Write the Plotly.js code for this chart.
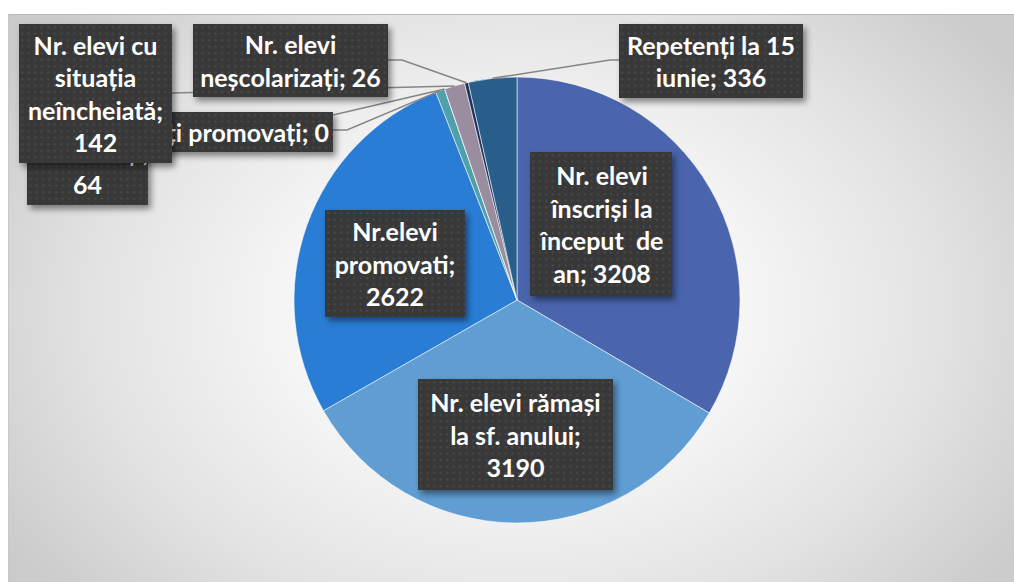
<!DOCTYPE html>
<html><head><meta charset="utf-8">
<script src="https://cdn.plot.ly/plotly-3.0.1.min.js"></script>
<style>
html,body{margin:0;padding:0;background:#fff;width:1014px;height:582px;overflow:hidden}
#frame{position:absolute;left:8px;top:14px;width:1006px;height:568px;border-top:1px solid #b8b8b8;border-left:1px solid #c8c8c8;box-sizing:border-box;
background:radial-gradient(ellipse 60% 78% at 50.5% 52%, #ffffff 0%, #f7f7f7 35%, #e3e3e3 70%, #cbcbcb 100%);}
#chart{position:absolute;left:0;top:0;width:1014px;height:582px}
.annotation rect.bg{filter:drop-shadow(3px 4px 3px rgba(0,0,0,0.45));fill:url(#dots) #3b3b3b !important;}
</style></head>
<body>
<svg width="0" height="0" style="position:absolute"><defs><pattern id="dots" width="6.5" height="6.5" patternUnits="userSpaceOnUse"><rect width="6.5" height="6.5" fill="#383838"/><circle cx="3.2" cy="3.2" r="1" fill="#4e4e4e"/></pattern></defs></svg>
<div id="frame"></div><div id="chart"></div>
<script>
// ---- data ----
const labelsWrapped = [
  "Nr. elevi<br>înscriși la<br>început  de<br>an; ",
  "Nr. elevi rămași<br>la sf. anului;<br>",
  "Nr.elevi<br>promovati;<br>",
  "Nr. elevi<br>transferați;<br>",
  "Corigenți promovați; ",
  "Nr. elevi cu<br>situația<br>neîncheiată;<br>",
  "Nr. elevi<br>neșcolarizați; ",
  "Repetenți la 15<br>iunie; "
];
const values = [3208, 3190, 2622, 64, 0, 142, 26, 336];
const colors = ["#4A65AE", "#5F9DD3", "#2A7DD5", "#4FA0AA", "#7FA6C8", "#9A8D9F", "#23335F", "#2A5E8A"];

// ---- layout constants (pixels) ----
const W = 1014, H = 582, CX = 517, CY = 300, R = 223;
// label boxes: [centerX, centerY, width, height]
const boxes = [
  [601, 224, 142, 144],
  [515.5, 434.5, 195, 111],
  [395, 263.5, 140, 107],
  [87.5, 151.5, 121, 107],
  [204.5, 132, 257, 40],
  [95.5, 93.5, 153, 139],
  [290.5, 60.5, 195, 73],
  [711, 61, 184, 74]
];
// leader line start points (pixels) for outside labels
const leaders = {
  3: [[300, 130], [347, 130]],
  4: [[333, 115]],
  5: [[172, 93]],
  6: [[388, 60], [402, 60]],
  7: [[619, 60], [610, 60]]
};
const drawOrder = [3, 4, 5, 6, 7, 0, 1, 2];

const labels = labelsWrapped.map(s => s.replace(/<br>/g, " ").replace(/;\s*$/, "").trim());
const total = values.reduce((a, b) => a + b, 0);
const px = x => x / W, py = y => 1 - y / H;

function slicePt(i) {
  let cum = 0;
  for (let k = 0; k < i; k++) cum += values[k];
  cum += values[i] / 2;
  const a = cum / total * 2 * Math.PI;
  return [CX + R * Math.sin(a), CY - R * Math.cos(a)];
}

const shapes = Object.keys(leaders).map(k => {
  const pts = leaders[k].concat([slicePt(+k)]);
  const path = pts.map((p, j) => (j ? "L" : "M") + px(p[0]).toFixed(5) + "," + py(p[1]).toFixed(5)).join(" ");
  return {type: "path", xref: "paper", yref: "paper", path: path, line: {color: "#858585", width: 1.5}, layer: "above"};
});

const annotations = drawOrder.map(i => {
  const b = boxes[i];
  return {
    xref: "paper", yref: "paper", x: px(b[0]), y: py(b[1]),
    xanchor: "center", yanchor: "middle",
    width: b[2], height: b[3], borderpad: 0, borderwidth: 0,
    align: "center", valign: "middle",
    bgcolor: "#3b3b3b", showarrow: false,
    text: labelsWrapped[i] + values[i],
    font: {family: "Lato, 'Open Sans', sans-serif", size: 25, color: "#ffffff", weight: 700}
  };
});

const trace = {
  type: "pie", labels: labels, values: values, sort: false, direction: "clockwise", rotation: 0,
  marker: {colors: colors, line: {color: "rgba(255,255,255,0.55)", width: 1}},
  textinfo: "none", hoverinfo: "none", showlegend: false,
  domain: {x: [(CX - R) / W, (CX + R) / W], y: [1 - (CY + R) / H, 1 - (CY - R) / H]}
};

Plotly.newPlot("chart", [trace], {
  width: W, height: H, margin: {l: 0, r: 0, t: 0, b: 0},
  paper_bgcolor: "rgba(0,0,0,0)", plot_bgcolor: "rgba(0,0,0,0)",
  showlegend: false, shapes: shapes, annotations: annotations
}, {displayModeBar: false, staticPlot: true});
</script>
</body></html>
